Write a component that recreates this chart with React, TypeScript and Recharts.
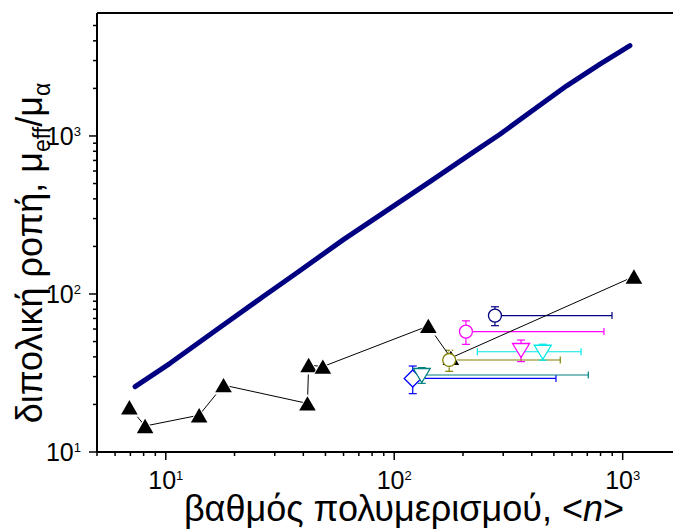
import { ScatterChart, Scatter, XAxis, YAxis, ErrorBar, Label } from 'recharts'

const FONT = '"Liberation Sans", Arial, sans-serif'

// theoretical curve
const curveN = [7.34, 10.44, 16.7, 26.7, 37.4, 59.9, 89.6, 148.3, 214.7, 290.4, 420.3, 568.7, 795.5, 1076]
const curveMu = [25.9, 36.4, 59.3, 96.4, 135.7, 220.8, 326.3, 531, 765, 1025, 1514, 2077, 2852, 3727]

// measured (black triangles)
const triN = [6.93, 8.12, 14.0, 17.9, 41.7, 42.2, 48.7, 141, 177, 1120]
const triMu = [19.2, 14.6, 17.1, 26.5, 20.3, 35.5, 34.7, 62.8, 39.4, 129]

// samples with error bars: ex = [low, high] in n, ey = ± in mu
const navyCircle = [{ n: 276, mu: 73, ex: [0, 622], ey: 10 }]
const magentaCircle = [{ n: 206, mu: 57.8, ex: [0, 622], ey: 9.8 }]
const oliveCircle = [{ n: 174, mu: 38.2, ex: [0, 359], ey: 5.8 }]
const blueDiamond = [{ n: 120.5, mu: 29.2, ex: [0, 390], ey: 5.8 }]
const tealTriangle = [{ n: 132, mu: 30.7, ex: [0, 575], ey: 3.5 }]
const magentaTriangle = [{ n: 359, mu: 44.2, ey: 6.9 }]
const cyanTriangle = [{ n: 447, mu: 43.1, ex: [216, 210], ey: 5 }]

const X_TICKS = [5, 6, 7, 8, 9, 10, 20, 30, 40, 50, 60, 70, 80, 90, 100, 200, 300, 400, 500, 600, 700, 800, 900, 1000]
const Y_TICKS = [10, 20, 30, 40, 50, 60, 70, 80, 90, 100, 200, 300, 400, 500, 600, 700, 800, 900, 1000, 2000, 3000, 4000, 5000]
const MAJOR = [10, 100, 1000]

const curve = curveN.map((n, i) => ({ n, mu: curveMu[i] }))
const triangles = triN.map((n, i) => ({ n, mu: triMu[i] }))

// native tick lines give the minor length (4px); majors get 4px more here
const XTick = (props: any) => {
  const { x, y, payload } = props
  if (!MAJOR.includes(payload.value)) return <g />
  return (
    <g>
      <line x1={x} x2={x} y1={y} y2={y + 4} stroke="#000" strokeWidth={1.5} />
      <text x={x} y={y + 33} textAnchor="middle" fontSize={25} fontFamily={FONT} fill="#000">
        10
        <tspan fontSize={13} dy={-9}>
          {Math.round(Math.log10(payload.value))}
        </tspan>
      </text>
    </g>
  )
}

const YTick = (props: any) => {
  const { x, y, payload } = props
  if (!MAJOR.includes(payload.value)) return <g />
  return (
    <g>
      <line x1={x} x2={x - 4} y1={y} y2={y} stroke="#000" strokeWidth={1.5} />
      <text x={x - 12} y={y + 9} textAnchor="end" fontSize={25} fontFamily={FONT} fill="#000">
        10
        <tspan fontSize={13} dy={-9}>
          {Math.round(Math.log10(payload.value))}
        </tspan>
      </text>
    </g>
  )
}

const XTitle = () => (
  <text x={396} y={513} textAnchor="middle" fontSize={36} fontFamily={FONT} fill="#000">
    βαθμός πολυμερισμού, &lt;<tspan fontStyle="italic">n</tspan>&gt;
  </text>
)

const YTitle = () => (
  <text
    x={34}
    y={245}
    transform="rotate(-90 34 245)"
    textAnchor="middle"
    fontSize={36}
    fontFamily={FONT}
    fill="#000"
  >
    διπολική ροπή, μ
    <tspan fontSize={23} dy={8}>eff</tspan>
    <tspan dy={-8}>/μ</tspan>
    <tspan fontSize={23} dy={8}>α</tspan>
  </text>
)

const blackTriangle = (p: any) => {
  const { cx, cy } = p
  const pts = (w: number, h: number) => `${cx - w},${cy + h} ${cx + w},${cy + h} ${cx},${cy - h}`
  return (
    <g>
      <polygon points={pts(10.5, 9.5)} fill="#fff" />
      <polygon points={pts(8.3, 7.2)} fill="#000" />
    </g>
  )
}

const hollow = (kind: string, color: string) => (p: any) => {
  const { cx, cy } = p
  if (kind === 'circle')
    return <circle cx={cx} cy={cy} r={6.5} fill="#fff" stroke={color} strokeWidth={1.3} />
  if (kind === 'diamond')
    return (
      <polygon
        points={`${cx},${cy - 8.5} ${cx + 8.5},${cy} ${cx},${cy + 8.5} ${cx - 8.5},${cy}`}
        fill="#fff"
        stroke={color}
        strokeWidth={1.3}
      />
    )
  return (
    <polygon
      points={`${cx - 8.5},${cy - 6.5} ${cx + 8.5},${cy - 6.5} ${cx},${cy + 7.5}`}
      fill="#fff"
      stroke={color}
      strokeWidth={1.3}
    />
  )
}

const samples = [
  { key: 'navyC', data: navyCircle, color: '#000080', kind: 'circle' },
  { key: 'magC', data: magentaCircle, color: '#ff00ff', kind: 'circle' },
  { key: 'magT', data: magentaTriangle, color: '#ff00ff', kind: 'down' },
  { key: 'oliveC', data: oliveCircle, color: '#808000', kind: 'circle' },
  { key: 'cyanT', data: cyanTriangle, color: '#00e8e8', kind: 'down' },
  { key: 'blueD', data: blueDiamond, color: '#0000ff', kind: 'diamond' },
  { key: 'tealT', data: tealTriangle, color: '#008080', kind: 'down' },
]

const axisLine = { stroke: '#000', strokeWidth: 2 }
const tickLine = { stroke: '#000', strokeWidth: 1.5 }

export default function App() {
  return (
    <div style={{ fontFamily: FONT }}>
      <ScatterChart width={673} height={524} margin={{ top: 5, right: 0, bottom: 0, left: 0 }}>
        <XAxis
          xAxisId="top"
          orientation="top"
          type="number"
          scale="log"
          domain={[5, 1800]}
          allowDataOverflow
          ticks={X_TICKS}
          interval={0}
          height={1}
          mirror
          tick={false}
          tickSize={3}
          tickLine={{ stroke: '#000', strokeWidth: 1 }}
          axisLine={axisLine}
        />
        <XAxis
          dataKey="n"
          type="number"
          scale="log"
          domain={[5, 1800]}
          allowDataOverflow
          ticks={X_TICKS}
          interval={0}
          height={80}
          tick={<XTick />}
          tickLine={tickLine}
          tickSize={4}
          tickMargin={0}
          axisLine={axisLine}
        >
          <Label content={<XTitle />} />
        </XAxis>
        <YAxis
          dataKey="mu"
          type="number"
          scale="log"
          domain={[10, 6000]}
          allowDataOverflow
          ticks={Y_TICKS}
          interval={0}
          width={89}
          tick={<YTick />}
          tickLine={tickLine}
          tickSize={4}
          tickMargin={0}
          axisLine={axisLine}
        >
          <Label content={<YTitle />} />
        </YAxis>
        <Scatter
          data={curve}
          line={{ stroke: '#000080', strokeWidth: 5, strokeLinecap: 'round', strokeLinejoin: 'round' }}
          lineType="joint"
          shape={() => <g />}
          isAnimationActive={false}
        />
        <Scatter
          data={triangles}
          line={{ stroke: '#000', strokeWidth: 1 }}
          lineType="joint"
          shape={blackTriangle}
          isAnimationActive={false}
        />
        {samples.map((s) => (
          <Scatter key={s.key} data={s.data} shape={hollow(s.kind, s.color)} isAnimationActive={false}>
            {'ex' in s.data[0] && (
              <ErrorBar dataKey="ex" direction="x" width={3.5} stroke={s.color} strokeWidth={1.2} />
            )}
            <ErrorBar dataKey="ey" direction="y" width={4} stroke={s.color} strokeWidth={1.2} />
          </Scatter>
        ))}
      </ScatterChart>
    </div>
  )
}
